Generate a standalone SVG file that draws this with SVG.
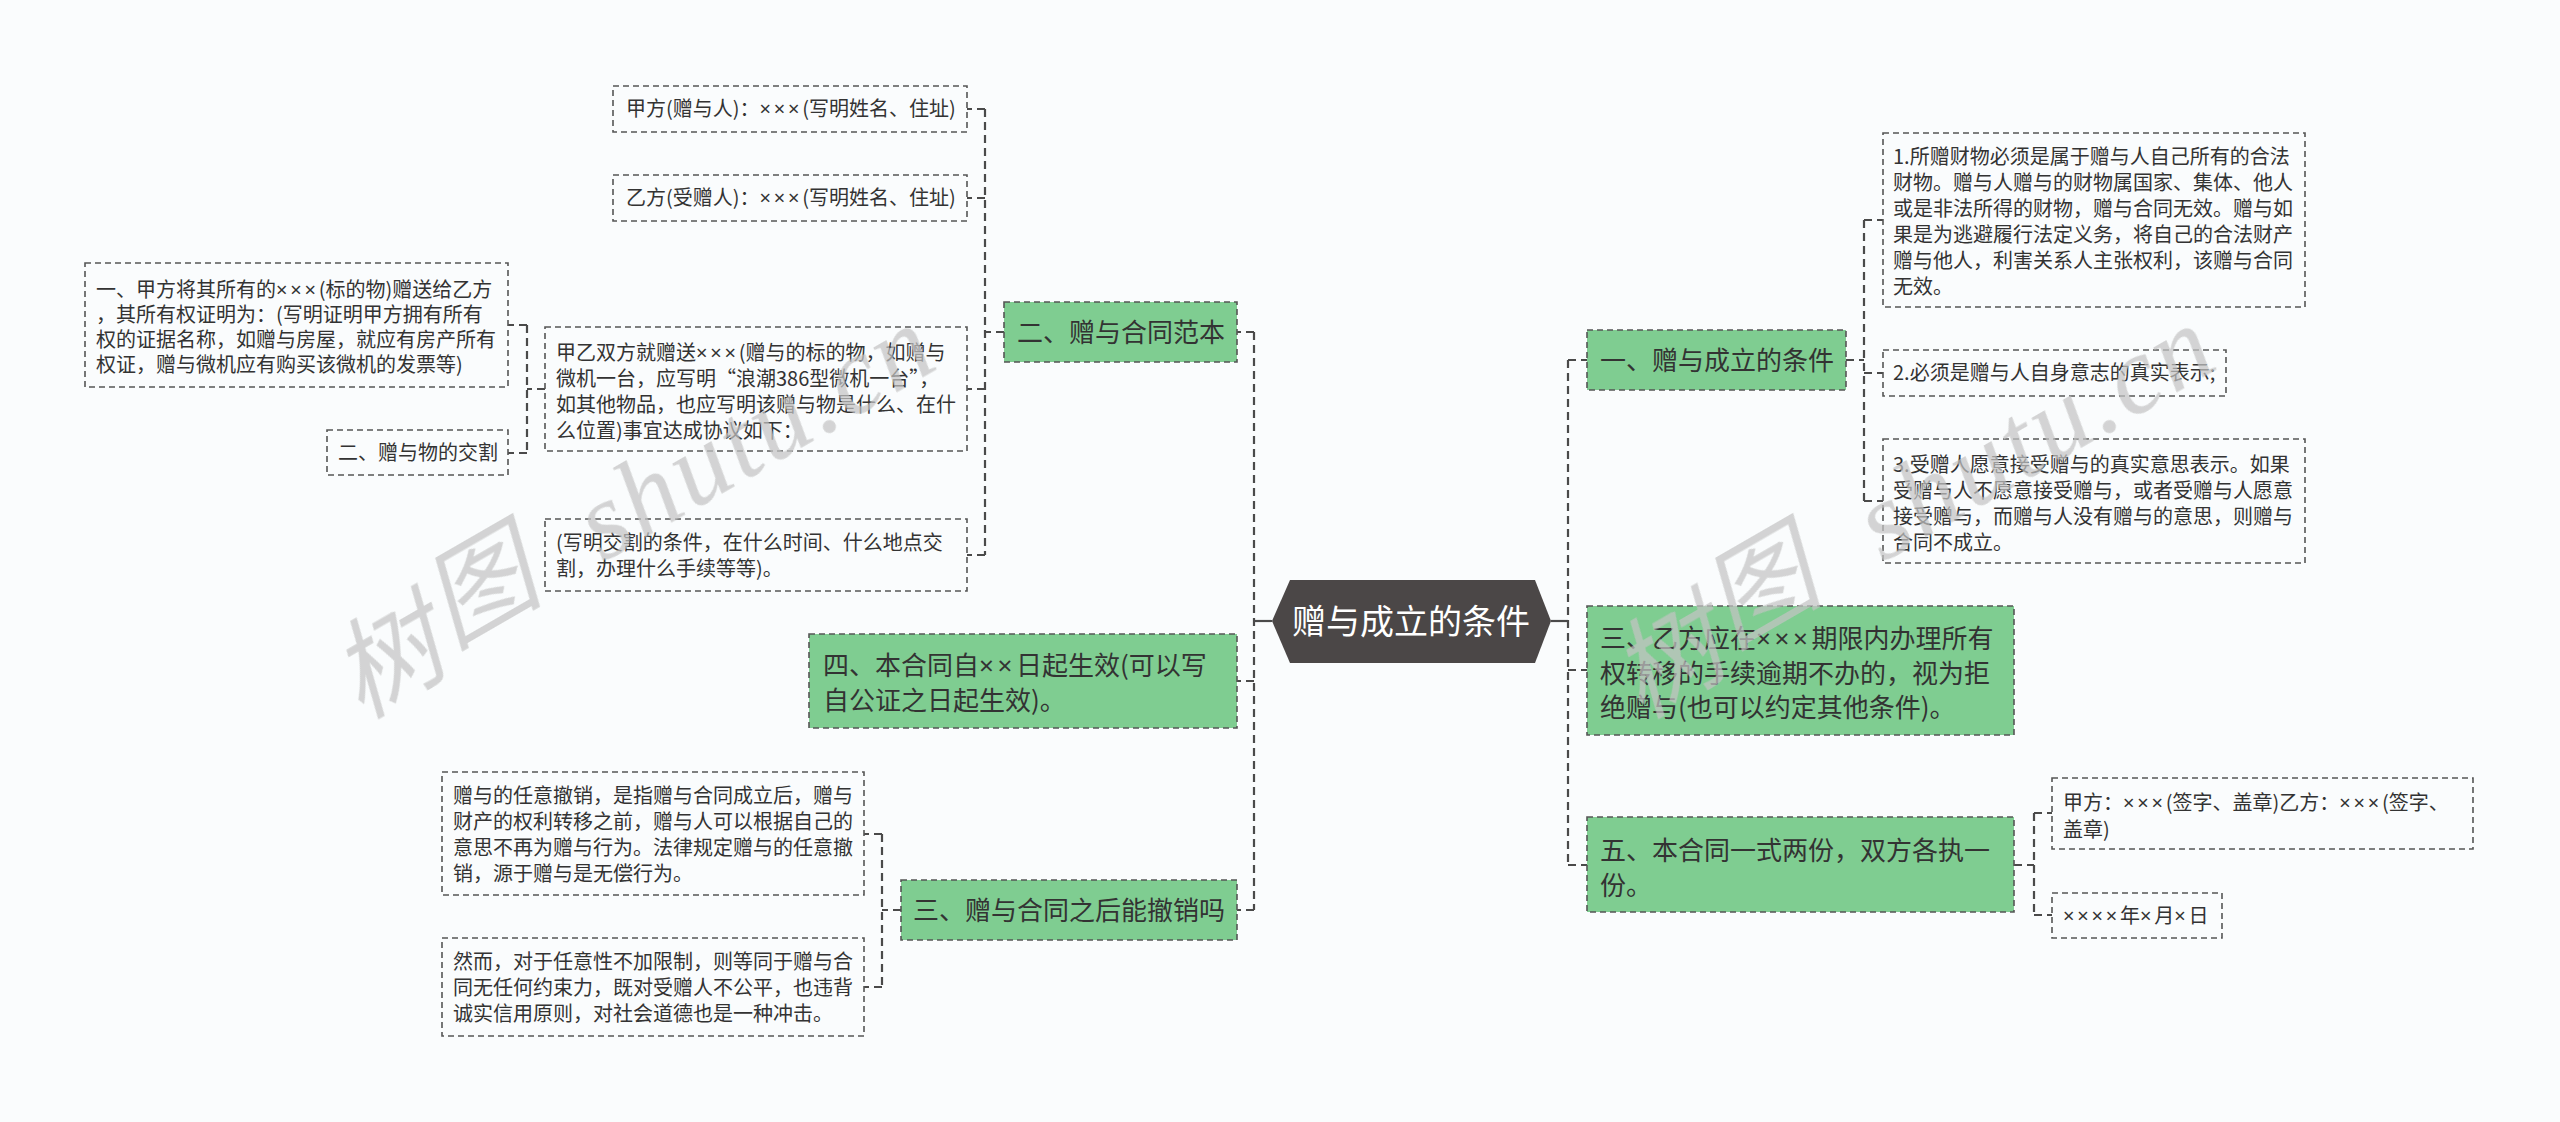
<svg xmlns="http://www.w3.org/2000/svg" width="2560" height="1122" viewBox="0 0 2560 1122">
<style>
.bg{fill:#fafcfd}
.bx{fill:#fafcfd;stroke:#555;stroke-width:1.6;stroke-dasharray:6 4}
.gn{fill:#7fcd91;stroke:#555;stroke-width:1.6;stroke-dasharray:6 4}
.hx{fill:#4b4747}
.t{font-family:"Noto Sans CJK SC","Microsoft YaHei",sans-serif;font-size:20px;fill:#333}
.tg{font-family:"Noto Sans CJK SC","Microsoft YaHei",sans-serif;font-size:26px;fill:#333}
.tc{font-family:"Noto Sans CJK SC","Microsoft YaHei",sans-serif;font-size:34px;fill:#fff}
.x{font-family:"Noto Sans","DejaVu Sans",sans-serif;letter-spacing:0.14em}
.cn{fill:none;stroke:#4a4a4a;stroke-width:2.2;stroke-dasharray:8 5}
.cs{fill:none;stroke:#4a4a4a;stroke-width:2.2}
.wm{fill:#c4c4c4;opacity:0.72}
.wc{font-family:"Noto Sans CJK SC",serif;font-size:108px;font-style:italic}
.wl{font-family:"Liberation Serif",serif;font-style:italic;font-size:110px}
</style>
<rect class="bg" x="0" y="0" width="2560" height="1122"/>

<g id="connectors">
  <path class="cs" d="M1272,621 H1254"/>
  <path class="cn" d="M1254,332 V910"/>
  <path class="cn" d="M1254,332 H1237 M1254,681 H1237 M1254,910 H1237"/>
  <path class="cs" d="M1551,621 H1568"/>
  <path class="cn" d="M1568,360 V865"/>
  <path class="cn" d="M1568,360 H1587 M1568,670 H1587 M1568,865 H1587"/>
  <path class="cn" d="M1846,360 H1864 M1864,220 V501 M1864,220 H1883 M1864,373 H1883 M1864,501 H1883"/>
  <path class="cn" d="M2014,865 H2034 M2034,813 V915 M2034,813 H2052 M2034,915 H2052"/>
  <path class="cn" d="M1004,332 H985 M985,109 V555 M985,109 H967 M985,198 H967 M985,389 H967 M985,555 H967"/>
  <path class="cn" d="M545,389 H527 M527,325 V453 M527,325 H508 M527,453 H508"/>
  <path class="cn" d="M901,910 H882 M882,834 V987 M882,834 H864 M882,987 H864"/>
</g>

<g id="center">
  <polygon class="hx" points="1272,621 1290,580 1535,580 1551,621 1535,663 1290,663"/>
  <text class="tc" x="1411" y="634" text-anchor="middle">赠与成立的条件</text>
</g>

<g id="n-fanben">
  <rect class="gn" x="1004" y="302" width="233" height="60"/>
  <text class="tg" x="1017" y="342">二、赠与合同范本</text>
</g>
<g id="n-shengxiao">
  <rect class="gn" x="809" y="634" width="428" height="94"/>
  <text class="tg" x="823" y="675">四、本合同自<tspan class="x">××</tspan>日起生效(可以写</text>
  <text class="tg" x="823" y="710">自公证之日起生效)。</text>
</g>
<g id="n-chexiao">
  <rect class="gn" x="901" y="880" width="336" height="60"/>
  <text class="tg" x="913" y="920">三、赠与合同之后能撤销吗</text>
</g>
<g id="n-tiaojian">
  <rect class="gn" x="1587" y="330" width="259" height="60"/>
  <text class="tg" x="1600" y="370">一、赠与成立的条件</text>
</g>
<g id="n-yifang">
  <rect class="gn" x="1587" y="606" width="427" height="129"/>
  <text class="tg" x="1600" y="648">三、乙方应在<tspan class="x">×××</tspan>期限内办理所有</text>
  <text class="tg" x="1600" y="683">权转移的手续逾期不办的，视为拒</text>
  <text class="tg" x="1600" y="717">绝赠与(也可以约定其他条件)。</text>
</g>
<g id="n-liangfen">
  <rect class="gn" x="1587" y="817" width="427" height="95"/>
  <text class="tg" x="1600" y="860">五、本合同一式两份，双方各执一</text>
  <text class="tg" x="1600" y="895">份。</text>
</g>

<g id="a1">
  <rect class="bx" x="1883" y="133" width="422" height="174"/>
  <text class="t" x="1893" y="164">1.所赠财物必须是属于赠与人自己所有的合法</text>
  <text class="t" x="1893" y="190">财物。赠与人赠与的财物属国家、集体、他人</text>
  <text class="t" x="1893" y="216">或是非法所得的财物，赠与合同无效。赠与如</text>
  <text class="t" x="1893" y="242">果是为逃避履行法定义务，将自己的合法财产</text>
  <text class="t" x="1893" y="268">赠与他人，利害关系人主张权利，该赠与合同</text>
  <text class="t" x="1893" y="294">无效。</text>
</g>
<g id="a2">
  <rect class="bx" x="1883" y="350" width="343" height="46"/>
  <text class="t" x="1893" y="380">2.必须是赠与人自身意志的真实表示;</text>
</g>
<g id="a3">
  <rect class="bx" x="1883" y="439" width="422" height="124"/>
  <text class="t" x="1893" y="472">3.受赠人愿意接受赠与的真实意思表示。如果</text>
  <text class="t" x="1893" y="498">受赠与人不愿意接受赠与，或者受赠与人愿意</text>
  <text class="t" x="1893" y="524">接受赠与，而赠与人没有赠与的意思，则赠与</text>
  <text class="t" x="1893" y="550">合同不成立。</text>
</g>
<g id="b1">
  <rect class="bx" x="2052" y="778" width="421" height="71"/>
  <text class="t" x="2063" y="810">甲方：<tspan class="x">×××</tspan>(签字、盖章)乙方：<tspan class="x">×××</tspan>(签字、</text>
  <text class="t" x="2063" y="837">盖章)</text>
</g>
<g id="b2">
  <rect class="bx" x="2052" y="893" width="170" height="45"/>
  <text class="t" x="2063" y="923"><tspan class="x">××××</tspan>年<tspan class="x">×</tspan>月<tspan class="x">×</tspan>日</text>
</g>
<g id="c1">
  <rect class="bx" x="613" y="86" width="354" height="46"/>
  <text class="t" x="626" y="116">甲方(赠与人)：<tspan class="x">×××</tspan>(写明姓名、住址)</text>
</g>
<g id="c2">
  <rect class="bx" x="613" y="175" width="354" height="46"/>
  <text class="t" x="626" y="205">乙方(受赠人)：<tspan class="x">×××</tspan>(写明姓名、住址)</text>
</g>
<g id="c3">
  <rect class="bx" x="545" y="327" width="422" height="124"/>
  <text class="t" x="556" y="360">甲乙双方就赠送<tspan class="x">×××</tspan>(赠与的标的物，如赠与</text>
  <text class="t" x="556" y="386">微机一台，应写明“浪潮386型微机一台”，</text>
  <text class="t" x="556" y="412">如其他物品，也应写明该赠与物是什么、在什</text>
  <text class="t" x="556" y="438">么位置)事宜达成协议如下：</text>
</g>
<g id="c4">
  <rect class="bx" x="545" y="519" width="422" height="72"/>
  <text class="t" x="556" y="550">(写明交割的条件，在什么时间、什么地点交</text>
  <text class="t" x="556" y="576">割，办理什么手续等等)。</text>
</g>
<g id="d1">
  <rect class="bx" x="85" y="263" width="423" height="124"/>
  <text class="t" x="96" y="297">一、甲方将其所有的<tspan class="x">×××</tspan>(标的物)赠送给乙方</text>
  <text class="t" x="96" y="322">，其所有权证明为：(写明证明甲方拥有所有</text>
  <text class="t" x="96" y="347">权的证据名称，如赠与房屋，就应有房产所有</text>
  <text class="t" x="96" y="372">权证，赠与微机应有购买该微机的发票等)</text>
</g>
<g id="d2">
  <rect class="bx" x="327" y="430" width="181" height="45"/>
  <text class="t" x="338" y="460">二、赠与物的交割</text>
</g>
<g id="e1">
  <rect class="bx" x="442" y="772" width="422" height="123"/>
  <text class="t" x="453" y="803">赠与的任意撤销，是指赠与合同成立后，赠与</text>
  <text class="t" x="453" y="829">财产的权利转移之前，赠与人可以根据自己的</text>
  <text class="t" x="453" y="855">意思不再为赠与行为。法律规定赠与的任意撤</text>
  <text class="t" x="453" y="881">销，源于赠与是无偿行为。</text>
</g>
<g id="e2">
  <rect class="bx" x="442" y="938" width="422" height="98"/>
  <text class="t" x="453" y="969">然而，对于任意性不加限制，则等同于赠与合</text>
  <text class="t" x="453" y="995">同无任何约束力，既对受赠人不公平，也违背</text>
  <text class="t" x="453" y="1021">诚实信用原则，对社会道德也是一种冲击。</text>
</g>

<g id="watermark" class="wm">
  <g transform="translate(370,704) rotate(-30)">
    <text class="wc" x="-16" y="9">树</text>
    <text class="wc" x="99" y="-8">图</text>
    <text class="wl" x="272" y="-6" textLength="391" lengthAdjust="spacing">shutu.cn</text>
  </g>
  <g transform="translate(1650,704) rotate(-30)">
    <text class="wc" x="-16" y="9">树</text>
    <text class="wc" x="99" y="-8">图</text>
    <text class="wl" x="272" y="-6" textLength="391" lengthAdjust="spacing">shutu.cn</text>
  </g>
</g>
</svg>
